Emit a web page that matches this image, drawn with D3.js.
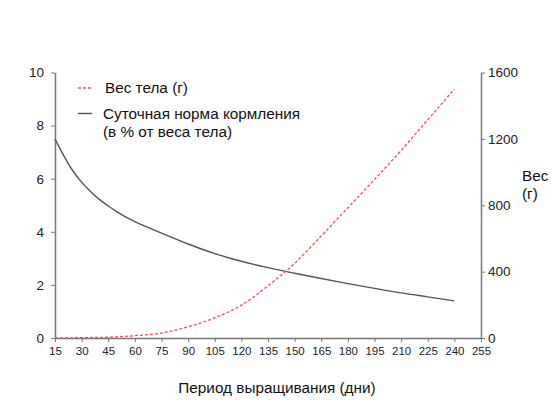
<!DOCTYPE html>
<html><head><meta charset="utf-8">
<script src="https://cdn.jsdelivr.net/npm/d3@7"></script>
<style>body{margin:0;background:#fff;} svg{display:block;font-family:"Liberation Sans",Arial,sans-serif;}</style>
</head><body>
<script>
const feedDays = [15,20,25,30,35,40,45,50,55,60,75,90,105,120,135,150,165,180,195,210,225,240];
const feedRate = [7.5,6.86,6.30,5.87,5.52,5.22,4.97,4.75,4.55,4.38,3.95,3.54,3.18,2.89,2.65,2.44,2.24,2.05,1.87,1.70,1.55,1.40];
const weightDays = [15,30,45,60,75,90,105,120,135,150,165,180,195,210,225,240];
const bodyWeight = [0,2,5,14,30,68,122,198,315,450,615,785,955,1130,1315,1500];
const xTicks = [15,30,45,60,75,90,105,120,135,150,165,180,195,210,225,240,255];
const leftTicks = [0,2,4,6,8,10];
const rightTicks = [0,400,800,1200,1600];
const labels = {
  weight: "Вес тела (г)",
  feed1: "Суточная норма кормления",
  feed2: "(в % от веса тела)",
  xTitle: "Период выращивания (дни)",
  yRight1: "Вес",
  yRight2: "(г)"
};

const W = 560, H = 420;
const svg = d3.select("body").append("svg").attr("width", W).attr("height", H);
const x = d3.scaleLinear().domain([15,255]).range([55,481]);
const yL = d3.scaleLinear().domain([0,10]).range([338,72.5]);
const yR = d3.scaleLinear().domain([0,1600]).range([338,72.5]);
const axisColor = "#777";
const textColor = "#222";
const ff = "Liberation Sans, Arial, sans-serif";

function style(g){
  g.select(".domain").attr("stroke", axisColor).attr("stroke-width", 1.5);
  g.selectAll(".tick line").attr("stroke", axisColor).attr("stroke-width", 1);
  g.selectAll(".tick text").attr("fill", textColor).attr("font-family", ff);
}

svg.append("g").attr("transform","translate(0,338)")
  .call(d3.axisBottom(x).tickValues(xTicks).tickSize(4).tickSizeOuter(0).tickPadding(5))
  .call(style).call(g=>g.selectAll("text").attr("font-size",11.5));
svg.append("g").attr("transform","translate(55,0)")
  .call(d3.axisLeft(yL).tickValues(leftTicks).tickSize(4).tickSizeOuter(0).tickPadding(7))
  .call(style).call(g=>g.selectAll("text").attr("font-size",13.5));
svg.append("g").attr("transform","translate(481,0)")
  .call(d3.axisRight(yR).tickValues(rightTicks).tickFormat(d3.format("d")).tickSize(4).tickSizeOuter(0).tickPadding(3))
  .call(style).call(g=>g.selectAll("text").attr("font-size",13.5));

const lineFeed = d3.line().x((d,i)=>x(feedDays[i])).y(d=>yL(d)).curve(d3.curveMonotoneX);
const lineW = d3.line().x((d,i)=>x(weightDays[i])).y(d=>yR(d)).curve(d3.curveMonotoneX);

svg.append("path").datum(feedRate).attr("d", lineFeed)
  .attr("fill","none").attr("stroke","#555").attr("stroke-width",1.4);
svg.append("path").datum(bodyWeight).attr("d", lineW)
  .attr("fill","none").attr("stroke","#f0505a").attr("stroke-width",1.3).attr("stroke-dasharray","3,2");

// legend
const lg = svg.append("g");
lg.append("line").attr("x1",78).attr("x2",92).attr("y1",88).attr("y2",88)
  .attr("stroke","#f0505a").attr("stroke-width",1.3).attr("stroke-dasharray","3,2");
lg.append("line").attr("x1",78).attr("x2",92).attr("y1",113.5).attr("y2",113.5)
  .attr("stroke","#555").attr("stroke-width",1.4);
const fs = 15.3;
lg.append("text").attr("x",105).attr("y",93).attr("font-size",fs).attr("fill","#111").text(labels.weight);
lg.append("text").attr("x",103).attr("y",119).attr("font-size",fs).attr("fill","#111").text(labels.feed1);
lg.append("text").attr("x",103).attr("y",137).attr("font-size",fs).attr("fill","#111").text(labels.feed2);

svg.append("text").attr("x",277).attr("y",393).attr("text-anchor","middle")
  .attr("font-size",fs).attr("fill","#111").text(labels.xTitle);
svg.append("text").attr("x",522).attr("y",181).attr("font-size",fs).attr("fill","#111").text(labels.yRight1);
svg.append("text").attr("x",522).attr("y",199).attr("font-size",fs).attr("fill","#111").text(labels.yRight2);
</script>
</body></html>
